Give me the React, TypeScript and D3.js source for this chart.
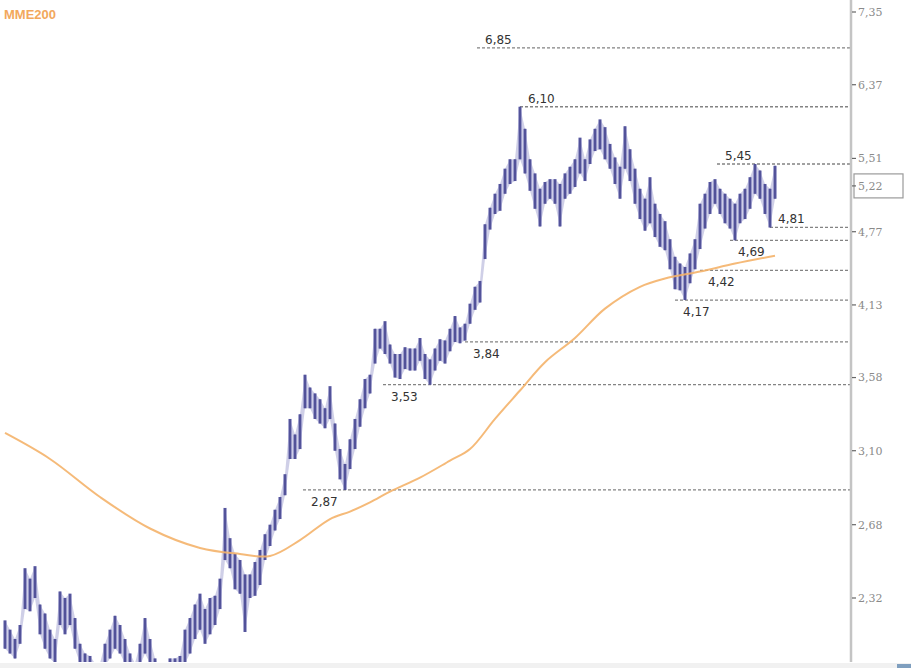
import React from "react";
import * as d3 from "d3";

// Price bars (daily high / low), one every bar slot
const highs = [
  2.22, 2.18, 2.14, 2.2, 2.46, 2.41, 2.47, 2.29, 2.25, 2.18,
  2.14, 2.35, 2.32, 2.34, 2.23, 2.12, 2.08, 2.07, 2.04, 2.04,
  2.12, 2.18, 2.24, 2.2, 2.14, 2.08, 2.04, 2.12, 2.23, 2.14,
  2.06, 2.02, 2.0, 2.06, 2.06, 2.07, 2.18, 2.23, 2.29, 2.34,
  2.27, 2.32, 2.33, 2.41, 2.77, 2.61, 2.53, 2.5, 2.43, 2.43,
  2.49, 2.55, 2.63, 2.68, 2.76, 2.83, 2.96, 3.3, 3.2, 3.33,
  3.6, 3.51, 3.47, 3.43, 3.37, 3.52, 3.27, 3.11, 3.02, 3.17,
  3.3, 3.43, 3.57, 3.6, 3.94, 3.94, 4.0, 3.82, 3.75, 3.75,
  3.8, 3.79, 3.79, 3.87, 3.75, 3.71, 3.79, 3.86, 3.85, 3.94,
  4.04, 3.95, 3.98, 4.14, 4.28, 4.33, 4.84, 5.0, 5.14, 5.24,
  5.4, 5.5, 5.5, 6.1, 5.84, 5.5, 5.35, 5.19, 5.26, 5.29,
  5.29, 5.24, 5.35, 5.42, 5.5, 5.74, 5.5, 5.72, 5.84, 5.95,
  5.86, 5.67, 5.52, 5.42, 5.87, 5.61, 5.4, 5.19, 5.09, 5.31,
  5.04, 4.94, 4.87, 4.7, 4.54, 4.48, 4.45, 4.57, 4.7, 5.04,
  5.14, 5.26, 5.29, 5.19, 5.14, 5.09, 5.04, 5.14, 5.19, 5.31,
  5.45, 5.38, 5.24, 5.19, 5.43,
];
const lows = [
  2.1, 2.08, 2.06, 2.12, 2.27, 2.26, 2.32, 2.16, 2.1, 2.06,
  2.04, 2.2, 2.16, 2.2, 2.1, 2.04, 2.0, 1.98, 1.94, 1.94,
  2.03, 2.06, 2.1, 2.08, 2.04, 2.0, 1.94, 2.03, 2.08, 2.04,
  1.98, 1.93, 1.92, 1.96, 1.96, 1.98, 2.04, 2.08, 2.14, 2.18,
  2.12, 2.16, 2.2, 2.27, 2.5, 2.46, 2.36, 2.34, 2.17, 2.32,
  2.33, 2.38, 2.5, 2.57, 2.65, 2.71, 2.84, 3.05, 3.05, 3.11,
  3.37, 3.37, 3.3, 3.27, 3.24, 3.3, 3.1, 2.93, 2.87, 2.99,
  3.11, 3.25, 3.37, 3.47, 3.68, 3.79, 3.75, 3.68, 3.58, 3.57,
  3.64, 3.63, 3.63, 3.7, 3.57, 3.53, 3.63, 3.7, 3.68, 3.77,
  3.84, 3.83, 3.85, 3.98, 4.09, 4.15, 4.52, 4.79, 4.94, 4.97,
  5.14, 5.24, 5.27, 5.5, 5.35, 5.17, 4.99, 4.82, 5.04, 5.09,
  5.04, 4.82, 5.09, 5.14, 5.21, 5.35, 5.27, 5.45, 5.59, 5.61,
  5.5, 5.4, 5.24, 5.09, 5.4, 5.27, 5.04, 4.89, 4.78, 4.85,
  4.72, 4.63, 4.6, 4.43, 4.26, 4.25, 4.17, 4.31, 4.43, 4.61,
  4.8, 4.94, 5.04, 4.94, 4.85, 4.8, 4.69, 4.85, 4.89, 4.99,
  5.14, 5.09, 4.94, 4.81, 5.09,
];

// MME200 (200-day moving average) read at a few bar positions
const mmeIdx = [0, 9, 19, 29, 39, 47, 53, 59, 65, 69, 73, 77, 83, 89, 93, 98, 103, 108, 114, 120, 127, 132, 139, 146, 154];
const mmeVal = [3.21, 3.05, 2.83, 2.66, 2.56, 2.53, 2.52, 2.6, 2.71, 2.75, 2.8, 2.86, 2.94, 3.04, 3.11, 3.3, 3.49, 3.69, 3.87, 4.1, 4.28, 4.35, 4.41, 4.48, 4.55];

// Support / resistance levels
const levelValues = [6.85, 6.1, 5.45, 4.81, 4.69, 4.42, 4.17, 3.84, 3.53, 2.87];
const levelStart = [94.4, 103, 142.4, 153, 145, 139, 134, 92, 75.6, 59.6];
const levelLabelAbove = [true, true, true, true, false, false, false, false, false, false];

const tickValues = [7.35, 6.37, 5.51, 4.77, 4.13, 3.58, 3.1, 2.68, 2.32];
const lastPrice = 5.22;
const legendLabel = "MME200";

const W = 911;
const H = 668;
const axisX = 851;
const plotBottom = 662;

const fmt = (v: number) => d3.format(".2f")(v).replace(".", ",");

export default function App() {
  const x = d3.scaleLinear().domain([0, highs.length - 1]).range([5, 775]);
  const y = d3.scaleLog().domain([2.32, 7.35]).range([598, 12]);

  const mmePath = d3
    .line<number>()
    .x((d, i) => x(mmeIdx[i]))
    .y((d) => y(d))
    .curve(d3.curveCatmullRom.alpha(0.5))(mmeVal) as string;

  const bandPath = d3
    .area<number>()
    .x((d, i) => x(i))
    .y0((d, i) => y(lows[i]))
    .y1((d) => y(d))
    .curve(d3.curveLinear)(highs) as string;

  return (
    <svg
      width={W}
      height={H}
      style={{ position: "absolute", left: 0, top: 0, background: "#fff" }}
      fontFamily="DejaVu Sans, sans-serif"
    >
      <defs>
        <clipPath id="plot">
          <rect x={0} y={0} width={axisX} height={plotBottom} />
        </clipPath>
      </defs>
      <rect x={0} y={0} width={W} height={H} fill="#fff" />

      <g clipPath="url(#plot)">
        {/* level lines */}
        {levelValues.map((v, i) => (
          <line
            key={"lv" + i}
            x1={x(levelStart[i])}
            x2={axisX}
            y1={y(v)}
            y2={y(v)}
            stroke="#6e6e6e"
            strokeWidth={1.3}
            strokeDasharray="3,2"
            opacity={0.85}
          />
        ))}

        {/* price band + bars */}
        <path d={bandPath} fill="#a7a7d3" opacity={0.55} />
        {highs.map((h, i) => (
          <line
            key={"bh" + i}
            x1={x(i)}
            x2={x(i)}
            y1={y(h)}
            y2={y(lows[i])}
            stroke="#8585bf"
            strokeWidth={4}
            opacity={0.7}
          />
        ))}
        {highs.map((h, i) => (
          <line
            key={"bc" + i}
            x1={x(i)}
            x2={x(i)}
            y1={y(h)}
            y2={y(lows[i])}
            stroke="#3a3a88"
            strokeWidth={1.5}
          />
        ))}

        {/* MME200 */}
        <path d={mmePath} fill="none" stroke="#f4b36a" strokeWidth={2} opacity={0.9} />
      </g>

      {/* level labels */}
      {levelValues.map((v, i) => (
        <text
          key={"ll" + i}
          x={x(levelStart[i]) + 8}
          y={levelLabelAbove[i] ? y(v) - 4 : y(v) + 16}
          fontSize={12}
          fill="#333"
        >
          {fmt(v)}
        </text>
      ))}

      {/* right axis */}
      <line x1={axisX} x2={axisX} y1={0} y2={plotBottom} stroke="#c4c4c4" strokeWidth={2.5} />
      {tickValues.map((t, i) => (
        <g key={"t" + i}>
          <line x1={axisX + 1} x2={axisX + 5} y1={y(t)} y2={y(t)} stroke="#666" strokeWidth={1.2} />
          <text
            x={axisX + 7}
            y={y(t)}
            dy="0.35em"
            fontSize={11}
            fill="#8a8a8a"
            fontFamily="DejaVu Serif, serif"
          >
            {fmt(t)}
          </text>
        </g>
      ))}
      {/* last price box */}
      <rect
        x={axisX + 3}
        y={y(lastPrice) - 12}
        width={49}
        height={24}
        fill="#fff"
        stroke="#9a9a9a"
        strokeWidth={1.2}
      />
      <line x1={axisX + 1} x2={axisX + 5} y1={y(lastPrice)} y2={y(lastPrice)} stroke="#666" strokeWidth={1.2} />
      <text
        x={axisX + 7}
        y={y(lastPrice)}
        dy="0.35em"
        fontSize={11}
        fill="#8a8a8a"
        fontFamily="DejaVu Serif, serif"
      >
        {fmt(lastPrice)}
      </text>

      {/* legend */}
      <text x={4} y={19} fontSize={13} fontWeight="bold" fill="#f2a85c" fontFamily="Liberation Sans, sans-serif">
        {legendLabel}
      </text>

      {/* bottom strip */}
      <rect x={0} y={plotBottom + 1} width={W} height={H - plotBottom - 1} fill="#f1f1f1" />
      <rect x={897} y={664} width={14} height={4} fill="#7f9fbf" />
    </svg>
  );
}
